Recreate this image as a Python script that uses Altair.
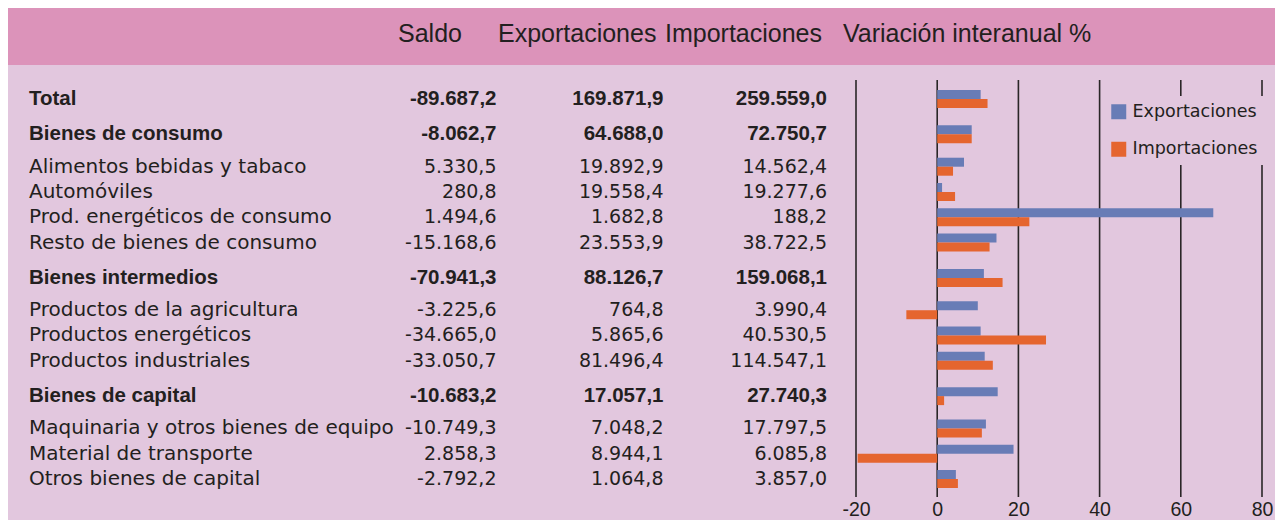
import altair as alt
import pandas as pd

# ---------------- data ----------------
categorias = [
    "Total", "Bienes de consumo", "Alimentos bebidas y tabaco", "Automóviles",
    "Prod. energéticos de consumo", "Resto de bienes de consumo", "Bienes intermedios",
    "Productos de la agricultura", "Productos energéticos", "Productos industriales",
    "Bienes de capital", "Maquinaria y otros bienes de equipo", "Material de transporte",
    "Otros bienes de capital",
]
es_grupo = [True, True, False, False, False, False, True, False, False, False,
            True, False, False, False]
saldo = [-89687.2, -8062.7, 5330.5, 280.8, 1494.6, -15168.6, -70941.3, -3225.6,
         -34665.0, -33050.7, -10683.2, -10749.3, 2858.3, -2792.2]
exportaciones = [169871.9, 64688.0, 19892.9, 19558.4, 1682.8, 23553.9, 88126.7,
                 764.8, 5865.6, 81496.4, 17057.1, 7048.2, 8944.1, 1064.8]
importaciones = [259559.0, 72750.7, 14562.4, 19277.6, 188.2, 38722.5, 159068.1,
                 3990.4, 40530.5, 114547.1, 27740.3, 17797.5, 6085.8, 3857.0]
var_export = [10.7, 8.5, 6.6, 1.2, 68.0, 14.6, 11.5, 10.0, 10.7, 11.7, 14.9, 12.0, 18.8, 4.6]
var_import = [12.4, 8.5, 3.9, 4.4, 22.7, 12.9, 16.1, -7.6, 26.8, 13.7, 1.7, 11.0, -19.6, 5.1]
series = ["Exportaciones", "Importaciones"]
encabezados = ["Saldo", "Exportaciones", "Importaciones", "Variación interanual %"]
ticks = [-20, 0, 20, 40, 60, 80]

# ---------------- styles ----------------
HEADER = "#dc93ba"
BODY = "#e2c7de"
BLUE = "#687cb6"
ORANGE = "#e5652f"
GRID = "#2a2627"
TXT = "#231f20"
W = 1267          # plot width (whole page width minus margins)
H = 489           # plot height down to the bottom of the grid lines
PB = 23           # bottom padding holding the tick labels
TOTAL_H = H + PB


def fmt(v):
    s = f"{v:,.1f}"
    return s.replace(",", "X").replace(".", ",").replace("X", ".")


# row layout from the group structure
pos = []
p = 0.0
for i, g in enumerate(es_grupo):
    if i > 0:
        p += 1.0
        if g:
            p += 0.4
        elif es_grupo[i - 1]:
            p += 0.28
    pos.append(p)

rows = pd.DataFrame({
    "cat": categorias,
    "pos": pos,
    "grupo": es_grupo,
    "saldo": [fmt(v) for v in saldo],
    "exp": [fmt(v) for v in exportaciones],
    "imp": [fmt(v) for v in importaciones],
})

bars = pd.DataFrame({
    "pos": pos + pos,
    "serie": [series[0]] * len(pos) + [series[1]] * len(pos),
    "var": var_export + var_import,
})

yscale = alt.Scale(domain=[0, pos[-1]], range=[86, 476], nice=False, zero=False)
xscale = alt.Scale(domain=[-20, 80], range=[848, 1254], nice=False, zero=False)
xaxis = alt.Axis(values=ticks, orient="bottom", ticks=False, domain=False,
                 grid=False, labelFont="Liberation Sans", labelFontSize=19.5,
                 labelColor=TXT, labelPadding=3, labelFlush=False,
                 labelExpr="toString(datum.value)", title=None, zindex=2)

one = pd.DataFrame({"k": [0]})

header_rect = alt.Chart(one).mark_rect(color=HEADER).encode(
    x=alt.value(0), x2=alt.value(W), y=alt.value(0), y2=alt.value(57))
body_rect = alt.Chart(one).mark_rect(color=BODY).encode(
    x=alt.value(0), x2=alt.value(W), y=alt.value(57), y2=alt.value(TOTAL_H))

header_x = [390, 490, 657, 835]
header_layers = [
    alt.Chart(one).mark_text(text=t, align="left", baseline="alphabetic",
                             font="Liberation Sans", fontSize=25, color=TXT)
    .encode(x=alt.value(hx), y=alt.value(34))
    for t, hx in zip(encabezados, header_x)
]


def text_layer(field, xpos, align, bold):
    if bold:
        font, size, weight = "Liberation Sans", 20.5, "bold"
        flt = "datum.grupo"
    else:
        font, size, weight = "DejaVu Sans", (20 if field == "cat" else 19), "normal"
        flt = "!datum.grupo"
    return (
        alt.Chart(rows)
        .transform_filter(flt)
        .mark_text(align=align, baseline="middle", font=font, fontSize=size,
                   fontWeight=weight, color=TXT)
        .encode(x=alt.value(xpos), y=alt.Y("pos:Q", scale=yscale, axis=None),
                text=alt.Text(f"{field}:N"))
    )


text_layers = []
for bold in (True, False):
    text_layers.append(text_layer("cat", 21, "left", bold))
    text_layers.append(text_layer("saldo", 488.5, "right", bold))
    text_layers.append(text_layer("exp", 655.5, "right", bold))
    text_layers.append(text_layer("imp", 819, "right", bold))

grid = alt.Chart(pd.DataFrame({"tick": ticks})).mark_rule(
    color=GRID, strokeWidth=1.6).encode(
    x=alt.X("tick:Q", scale=xscale, axis=xaxis),
    y=alt.value(72), y2=alt.value(H))

legend = alt.Legend(title=None, orient="none", legendX=1095, legendY=88,
                    symbolType="square", symbolSize=225, symbolStrokeWidth=0,
                    symbolOpacity=1, labelFont="DejaVu Sans", labelFontSize=17.5,
                    labelColor=TXT, labelOffset=5, rowPadding=18.5, padding=7,
                    fillColor=BODY)

bar_base = alt.Chart(bars).encode(
    x=alt.X("var:Q", scale=xscale, axis=xaxis),
    x2=alt.X2(datum=0),
    y=alt.Y("pos:Q", scale=yscale, axis=None),
    color=alt.Color("serie:N", scale=alt.Scale(domain=series, range=[BLUE, ORANGE]),
                    legend=legend),
)
exp_bars = bar_base.transform_filter(alt.datum.serie == series[0]).mark_bar(
    size=9, yOffset=-4.5, orient="horizontal")
imp_bars = bar_base.transform_filter(alt.datum.serie == series[1]).mark_bar(
    size=9, yOffset=4.5, orient="horizontal")

chart = alt.layer(
    body_rect, header_rect, *header_layers, *text_layers, grid, exp_bars, imp_bars
).properties(
    width=W, height=H,
    padding={"left": 0, "top": 0, "right": 0, "bottom": PB},
    background="white",
    autosize=alt.AutoSizeParams(type="none"),
).configure_view(strokeWidth=0)

chart.save("out.html", embed_options={"renderer": "svg", "actions": False})
